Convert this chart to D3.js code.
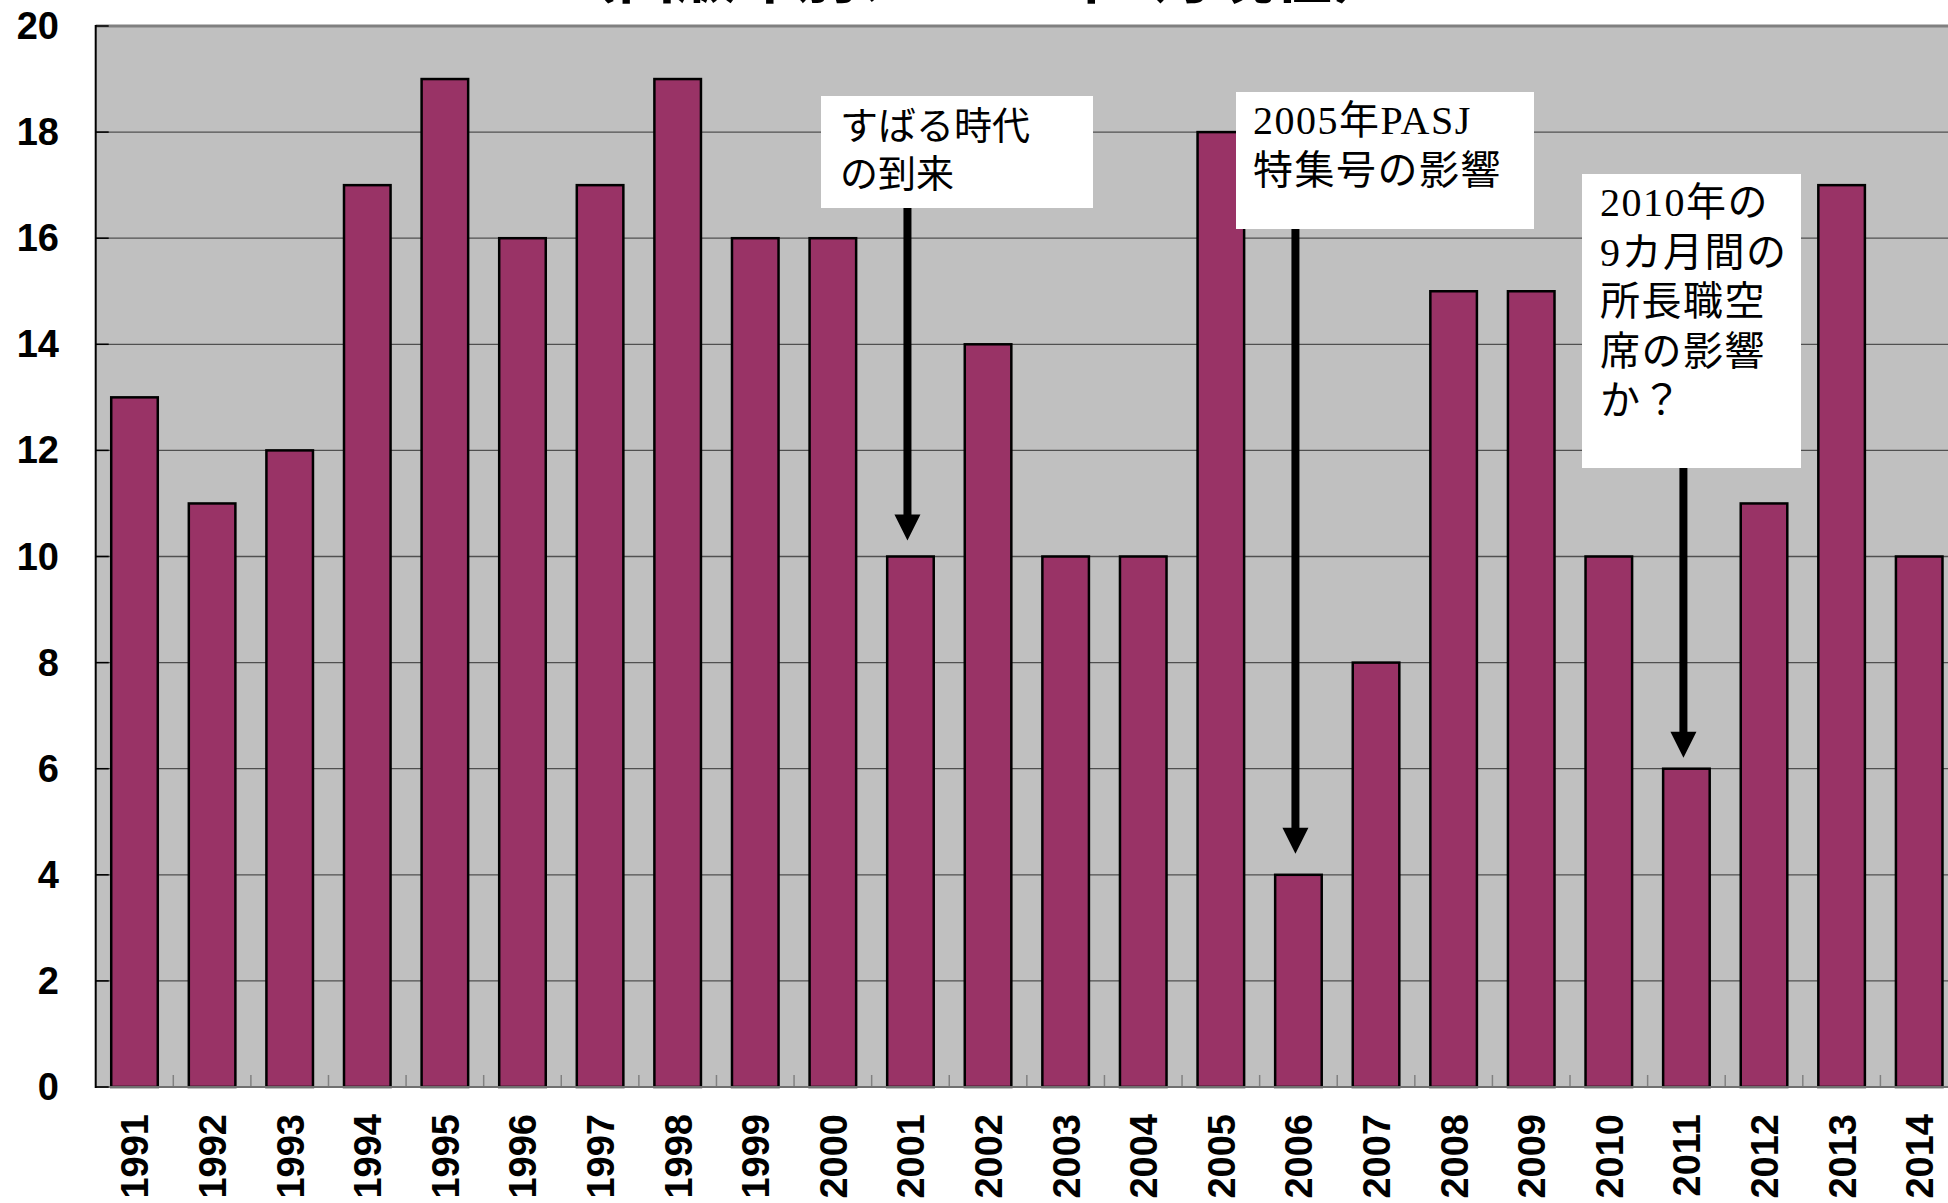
<!DOCTYPE html>
<html><head><meta charset="utf-8">
<script src="https://cdn.jsdelivr.net/npm/d3@7"></script>
<style>html,body{margin:0;padding:0;background:#fff;overflow:hidden}</style>
</head><body>
<svg id="c" width="1948" height="1203"></svg>
<script>
const years = [1991,1992,1993,1994,1995,1996,1997,1998,1999,2000,2001,2002,2003,2004,2005,2006,2007,2008,2009,2010,2011,2012,2013,2014];
const counts = [13,11,12,17,19,16,17,19,16,16,10,14,10,10,18,4,8,15,15,10,6,11,17,10];
const yTicks = [0,2,4,6,8,10,12,14,16,18,20];
const titleText = "（出版年別、2015年3月現在）";
const noteYears = [2001, 2006, 2011];
const noteLines = [
  ["すばる時代", "の到来"],
  ["2005年PASJ", "特集号の影響"],
  ["2010年の", "9カ月間の", "所長職空", "席の影響", "か？"]
];

const svg = d3.select("#c");
const L = 95.7, R = 1958, T = 26, B = 1087;
const x = d3.scaleBand().domain(years).range([L, R]).paddingInner(0.4).paddingOuter(0.2);
const y = d3.scaleLinear().domain([0, 20]).range([B, T]);

// title (mostly cut off at top)
svg.append("text").attr("x", 975).attr("y", -2).attr("text-anchor", "middle")
  .attr("font-family", "Noto Sans CJK JP").attr("font-weight", "bold").attr("font-size", 60)
  .text(titleText);

// plot background
svg.append("rect").attr("x", L).attr("y", T).attr("width", R - L).attr("height", B - T).attr("fill", "#c0c0c0");

// gridlines
svg.append("g").selectAll("line").data(yTicks.filter(d => d > 0)).join("line")
  .attr("x1", L).attr("x2", R).attr("y1", d => y(d)).attr("y2", d => y(d))
  .attr("stroke", d => d === 20 ? "#808080" : "#505050").attr("stroke-width", d => d === 20 ? 3 : 1.3);

// x ticks (category boundaries, inward)
svg.append("g").selectAll("line").data(years.slice(1)).join("line")
  .attr("x1", d => x(d) - x.step() * 0.2).attr("x2", d => x(d) - x.step() * 0.2)
  .attr("y1", B).attr("y2", B - 12).attr("stroke", "#808080").attr("stroke-width", 1.5);

// bars
svg.append("g").selectAll("rect").data(years).join("rect")
  .attr("x", d => x(d)).attr("width", x.bandwidth())
  .attr("y", (d, i) => y(counts[i])).attr("height", (d, i) => B - y(counts[i]))
  .attr("fill", "#993366").attr("stroke", "#000").attr("stroke-width", 2.5);

// axes lines
svg.append("line").attr("x1", L).attr("x2", R).attr("y1", B).attr("y2", B).attr("stroke", "#707070").attr("stroke-width", 2);
svg.append("line").attr("x1", L).attr("x2", L).attr("y1", T - 1).attr("y2", B + 1).attr("stroke", "#000").attr("stroke-width", 2);
// y ticks inward
svg.append("g").selectAll("line").data(yTicks).join("line")
  .attr("x1", L).attr("x2", L + 13).attr("y1", d => y(d)).attr("y2", d => y(d))
  .attr("stroke", "#000").attr("stroke-width", 1.5);

// y labels
svg.append("g").selectAll("text").data(yTicks).join("text")
  .attr("x", 59).attr("y", d => y(d)).attr("text-anchor", "end").attr("dominant-baseline", "central")
  .attr("font-family", "Liberation Sans, Arial").attr("font-weight", "bold").attr("font-size", 38)
  .text(d => d);

// x labels rotated
svg.append("g").selectAll("text").data(years).join("text")
  .attr("transform", d => `translate(${x(d) + x.bandwidth() / 2 + 1},1114) rotate(-90)`)
  .attr("text-anchor", "end").attr("dominant-baseline", "central")
  .attr("font-family", "Liberation Sans, Arial").attr("font-weight", "bold").attr("font-size", 38)
  .text(d => d);

// annotations
const boxes = [
  {x: 821, y: 96, w: 272, h: 112, tx: 840, base: 139, lh: 48, fs: 38, ls: 0, font: "Noto Sans CJK JP", gap: 16},
  {x: 1236, y: 92, w: 298, h: 137, tx: 1253, base: 134, lh: 50, fs: 40, ls: 1.5, font: "Liberation Serif, Noto Sans CJK JP", gap: 21},
  {x: 1582, y: 174, w: 219, h: 294, tx: 1600, base: 216, lh: 49.5, fs: 40, ls: 1.5, font: "Liberation Serif, Noto Sans CJK JP", gap: 11}
];
boxes.forEach((b, k) => {
  const g = svg.append("g");
  const yr = noteYears[k];
  const idx = years.indexOf(yr);
  const ax = x(yr) + x.bandwidth() / 2 - 3;
  const tip = y(counts[idx]) - b.gap;
  g.append("rect").attr("x", b.x).attr("y", b.y).attr("width", b.w).attr("height", b.h).attr("fill", "#fff");
  g.selectAll("text.n").data(noteLines[k]).join("text").attr("class", "n")
    .attr("font-family", b.font).attr("font-size", b.fs).attr("fill", "#000").attr("letter-spacing", b.ls)
    .attr("x", b.tx).attr("y", (d, i) => b.base + i * b.lh).text(d => d);
  const top = b.y + b.h;
  const hl = 26, hw = 13;
  g.append("rect").attr("x", ax - 4).attr("y", top).attr("width", 8).attr("height", tip - hl - top + 1).attr("fill", "#000");
  g.append("path").attr("d", `M${ax - hw},${tip - hl} L${ax + hw},${tip - hl} L${ax},${tip} Z`).attr("fill", "#000");
});
</script>
</body></html>
